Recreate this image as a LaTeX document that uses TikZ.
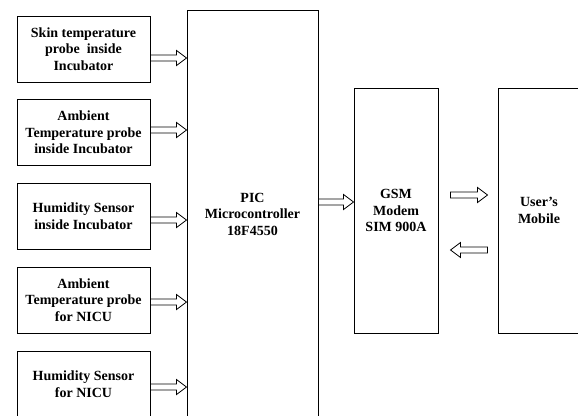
\documentclass[tikz,border=0pt]{standalone}
\usepackage{fontspec}
\setmainfont{Liberation Serif}
\tikzset{
  blk/.style={draw, line width=1pt, align=center, inner sep=0pt,
    font=\bfseries\fontsize{14}{16.5}\selectfont},
  sensor/.style={blk, minimum width=133pt, minimum height=66pt},
  % hollow block arrow, #1 = 1 (to the right) or -1 (to the left)
  blockarr/.style={line width=0.8pt, to path={
    ([yshift=3pt]\tikztostart) -- ([xshift={-10pt*(#1)},yshift=3pt]\tikztotarget)
    -- ([xshift={-10pt*(#1)},yshift=7.5pt]\tikztotarget) -- (\tikztotarget)
    -- ([xshift={-10pt*(#1)},yshift=-7.5pt]\tikztotarget)
    -- ([xshift={-10pt*(#1)},yshift=-3pt]\tikztotarget) -- ([yshift=-3pt]\tikztostart) -- cycle}},
  blockarr/.default=1,
}

\begin{document}
\begin{tikzpicture}[x=1pt,y=-1pt]
    \path[use as bounding box, clip] (0,0) rectangle (578,415);
    % sensors
    \node[sensor] (s1) at (83.5,49) {Skin temperature\\probe~ inside\\Incubator};
    \node[sensor] (s2) at (83.5,132.5) {Ambient\\Temperature probe\\inside Incubator};
    \node[sensor] (s3) at (83.5,216) {Humidity Sensor\\inside Incubator};
    \node[sensor] (s4) at (83.5,300) {Ambient\\Temperature probe\\for NICU};
    \node[sensor] (s5) at (83.5,384) {Humidity Sensor\\for NICU};
    % main blocks
    \node[blk, minimum width=131pt, minimum height=408pt] (pic) at (252.5,214) {PIC\\Microcontroller\\18F4550};
    \node[blk, minimum width=84pt, minimum height=245pt] (gsm) at (396,210.5) {GSM\\Modem\\SIM 900A};
    \node[blk, minimum width=82pt, minimum height=245pt] (mob) at (539,210.5) {User's\\Mobile};
    % links
    \draw[blockarr] ([yshift=-9pt]s1.east) to ([yshift=-9pt]s1.east -| pic.west);
    \draw[blockarr] ([yshift=2.5pt]s2.east) to ([yshift=2.5pt]s2.east -| pic.west);
    \draw[blockarr] ([yshift=-4pt]s3.east) to ([yshift=-4pt]s3.east -| pic.west);
    \draw[blockarr] ([yshift=-2pt]s4.east) to ([yshift=-2pt]s4.east -| pic.west);
    \draw[blockarr] ([yshift=-3pt]s5.east) to ([yshift=-3pt]s5.east -| pic.west);
    \draw[blockarr] ([yshift=12pt]pic.east) to ([yshift=12pt]pic.east -| gsm.west);
    \draw[blockarr] ([xshift=12pt,yshift=15.5pt]gsm.east) to ([xshift=-10pt,yshift=15.5pt]mob.west);
    \draw[blockarr=-1] ([xshift=-10pt,yshift=-39.5pt]mob.west) to ([xshift=12pt,yshift=-39.5pt]gsm.east);
\end{tikzpicture}
\end{document}
